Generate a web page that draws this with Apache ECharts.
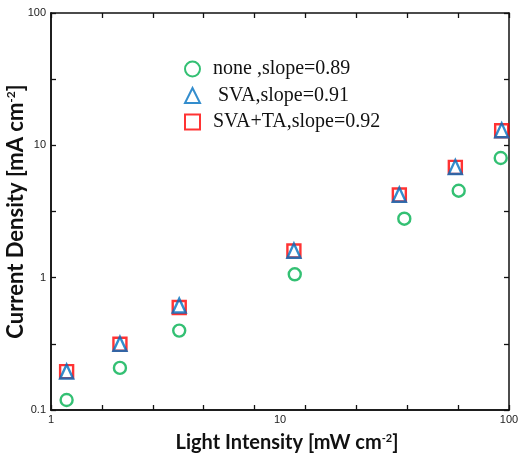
<!DOCTYPE html>
<html>
<head>
<meta charset="utf-8">
<style>
  html, body { margin: 0; padding: 0; background: #fff; }
  #chart { width: 518px; height: 456px; }
</style>
<script src="https://cdn.jsdelivr.net/npm/echarts@6/dist/echarts.min.js"></script>
</head>
<body>
<div id="chart"></div>
<script>
// Light intensity (mW cm^-2) for each sample set
const intensityNone = [1.17, 2.0, 3.63, 11.6, 34.9, 60.3, 92.0];
const intensitySVA  = [1.17, 2.0, 3.63, 11.5, 33.2, 58.3, 92.9];

// Short-circuit current density (mA cm^-2)
const jscNone  = [0.119, 0.208, 0.398, 1.06, 2.79, 4.54, 8.02];
const jscSVA   = [0.195, 0.316, 0.615, 1.60, 4.24, 6.86, 13.0];
const jscSVATA = [0.195, 0.314, 0.595, 1.59, 4.21, 6.82, 12.9];

const seriesNames = ['none ,slope=0.89', ' SVA,slope=0.91', 'SVA+TA,slope=0.92'];

// Tick-mark counts along the frame
const xTickCount = 9;
const yTickCount = 6;

const pairs = (xs, ys) => xs.map((x, i) => [x, ys[i]]);

const GREEN = '#00B050', BLUE = '#0070C0', RED = '#FF0000';

const chart = echarts.init(document.getElementById('chart'), null, { renderer: 'canvas' });

const frameAxisX = (pos) => ({
  type: 'value', position: pos, min: 0, max: xTickCount, interval: 1,
  axisLine: { show: true, lineStyle: { color: '#111', width: 1.5 } },
  axisTick: { show: true, inside: true, length: 5, lineStyle: { color: '#111', width: 1.3 } },
  axisLabel: { show: false }, splitLine: { show: false }
});
const frameAxisY = (pos) => ({
  type: 'value', position: pos, min: 0, max: yTickCount, interval: 1,
  axisLine: { show: true, lineStyle: { color: '#111', width: 1.5 } },
  axisTick: { show: true, inside: true, length: 5, lineStyle: { color: '#111', width: 1.3 } },
  axisLabel: { show: false }, splitLine: { show: false }
});

const titleRich = (size) => ({
  a: { fontFamily: 'Lato', fontWeight: 'bold', fontSize: size, color: '#111' },
  s: { fontFamily: 'Lato', fontWeight: 'bold', fontSize: Math.round(size * 0.55), color: '#111',
       verticalAlign: 'top', padding: [0, 0, Math.round(size * 0.45), 0] }
});

chart.setOption({
  animation: false,
  backgroundColor: '#fff',
  grid: { left: 51, right: 9, top: 13, bottom: 46, containLabel: false, outerBoundsMode: 'none' },
  legend: {
    orient: 'vertical',
    left: 179,
    top: 54,
    itemWidth: 15,
    itemHeight: 15,
    itemGap: 6.5,
    data: seriesNames,
    textStyle: {
      fontFamily: 'Liberation Serif', fontSize: 20, lineHeight: 18, color: '#111',
      padding: [0, 0, 0, 8]
    }
  },
  xAxis: [
    {
      type: 'log', logBase: 10, min: 1, max: 100, position: 'bottom',
      name: '{a|Light Intensity [mW cm}{s|-2}{a|]}',
      nameLocation: 'middle', nameGap: 23, nameMoveOverlap: false,
      nameTextStyle: { rich: titleRich(20), padding: [0, 0, 0, 14] },
      axisLine: { show: true, lineStyle: { color: '#111', width: 1.5 } },
      axisTick: { show: false },
      axisLabel: { fontFamily: 'Liberation Sans', fontSize: 11, color: '#222', margin: 4 },
      splitLine: { show: false }, minorTick: { show: false }
    },
    frameAxisX('bottom'),
    frameAxisX('top')
  ],
  yAxis: [
    {
      type: 'log', logBase: 10, min: 0.1, max: 100, position: 'left',
      name: '{a|Current Density [mA cm}{s|-2}{a|]}',
      nameLocation: 'middle', nameGap: 24, nameMoveOverlap: false,
      nameTextStyle: { rich: titleRich(22) },
      axisLine: { show: true, lineStyle: { color: '#111', width: 1.5 } },
      axisTick: { show: false },
      axisLabel: { fontFamily: 'Liberation Sans', fontSize: 11, color: '#222', margin: 5,
        formatter: (v) => String(+v.toPrecision(3)) },
      splitLine: { show: false }, minorTick: { show: false }
    },
    frameAxisY('left'),
    frameAxisY('right')
  ],
  series: [
    {
      name: seriesNames[0], type: 'scatter', xAxisIndex: 0, yAxisIndex: 0, z: 3,
      symbol: 'circle', symbolSize: 12,
      itemStyle: { color: 'rgba(255,255,255,0)', borderColor: GREEN, borderWidth: 2.4 },
      data: pairs(intensityNone, jscNone)
    },
    {
      name: seriesNames[2], type: 'scatter', xAxisIndex: 0, yAxisIndex: 0, z: 2,
      symbol: 'rect', symbolSize: 13,
      itemStyle: { color: 'rgba(255,255,255,0)', borderColor: RED, borderWidth: 2.4 },
      data: pairs(intensitySVA, jscSVATA)
    },
    {
      name: seriesNames[1], type: 'scatter', xAxisIndex: 0, yAxisIndex: 0, z: 4,
      symbol: 'triangle', symbolSize: [13, 14],
      itemStyle: { color: 'rgba(255,255,255,0)', borderColor: BLUE, borderWidth: 2.4 },
      data: pairs(intensitySVA, jscSVA)
    }
  ]
});
</script>
</body>
</html>
